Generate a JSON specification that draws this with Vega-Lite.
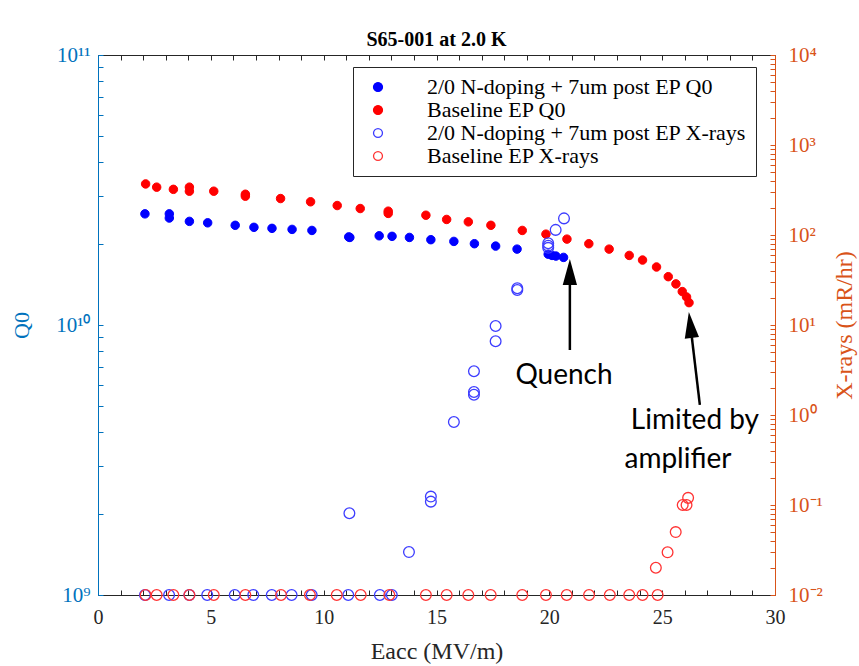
{
  "$schema": "https://vega.github.io/schema/vega-lite/v6.json",
  "width": 677,
  "height": 540,
  "autosize": {"type": "none"},
  "padding": {"left": 98, "top": 55, "right": 84, "bottom": 71},
  "background": "white",
  "title": {"text": "S65-001 at 2.0 K", "font": "Liberation Serif", "fontSize": 20, "fontWeight": "bold", "color": "#000000", "anchor": "middle", "baseline": "alphabetic", "offset": 6, "frame": "group", "dy": 28},
  "config": {
    "view": {"stroke": null},
    "font": "Liberation Serif",
    "legend": {
      "orient": "none", "legendX": 255, "legendY": 12,
      "strokeColor": "#262626", "fillColor": "white", "padding": 9,
      "labelFont": "Liberation Serif", "labelFontSize": 22, "labelColor": "#000000",
      "symbolSize": 80, "symbolStrokeWidth": 1.3, "symbolOffset": 5, "labelOffset": 38, "rowPadding": 1,
      "labelLimit": 500
    }
  },
  "datasets": {
    "q0": [
      {"E": 2.08, "Q0": 2.58e10, "series": "2/0 N-doping + 7um post EP Q0"},
      {"E": 3.16, "Q0": 2.58e10, "series": "2/0 N-doping + 7um post EP Q0"},
      {"E": 3.16, "Q0": 2.49e10, "series": "2/0 N-doping + 7um post EP Q0"},
      {"E": 4.05, "Q0": 2.42e10, "series": "2/0 N-doping + 7um post EP Q0"},
      {"E": 4.86, "Q0": 2.39e10, "series": "2/0 N-doping + 7um post EP Q0"},
      {"E": 6.08, "Q0": 2.34e10, "series": "2/0 N-doping + 7um post EP Q0"},
      {"E": 6.91, "Q0": 2.30e10, "series": "2/0 N-doping + 7um post EP Q0"},
      {"E": 7.71, "Q0": 2.28e10, "series": "2/0 N-doping + 7um post EP Q0"},
      {"E": 8.60, "Q0": 2.26e10, "series": "2/0 N-doping + 7um post EP Q0"},
      {"E": 9.48, "Q0": 2.24e10, "series": "2/0 N-doping + 7um post EP Q0"},
      {"E": 11.11, "Q0": 2.12e10, "series": "2/0 N-doping + 7um post EP Q0"},
      {"E": 11.16, "Q0": 2.11e10, "series": "2/0 N-doping + 7um post EP Q0"},
      {"E": 12.46, "Q0": 2.14e10, "series": "2/0 N-doping + 7um post EP Q0"},
      {"E": 13.03, "Q0": 2.13e10, "series": "2/0 N-doping + 7um post EP Q0"},
      {"E": 13.80, "Q0": 2.11e10, "series": "2/0 N-doping + 7um post EP Q0"},
      {"E": 14.75, "Q0": 2.07e10, "series": "2/0 N-doping + 7um post EP Q0"},
      {"E": 15.77, "Q0": 2.04e10, "series": "2/0 N-doping + 7um post EP Q0"},
      {"E": 16.68, "Q0": 2.00e10, "series": "2/0 N-doping + 7um post EP Q0"},
      {"E": 17.62, "Q0": 1.96e10, "series": "2/0 N-doping + 7um post EP Q0"},
      {"E": 18.57, "Q0": 1.91e10, "series": "2/0 N-doping + 7um post EP Q0"},
      {"E": 19.95, "Q0": 1.83e10, "series": "2/0 N-doping + 7um post EP Q0"},
      {"E": 20.12, "Q0": 1.81e10, "series": "2/0 N-doping + 7um post EP Q0"},
      {"E": 20.29, "Q0": 1.80e10, "series": "2/0 N-doping + 7um post EP Q0"},
      {"E": 20.63, "Q0": 1.78e10, "series": "2/0 N-doping + 7um post EP Q0"},
      {"E": 2.11, "Q0": 3.33e10, "series": "Baseline EP Q0"},
      {"E": 2.60, "Q0": 3.24e10, "series": "Baseline EP Q0"},
      {"E": 3.34, "Q0": 3.18e10, "series": "Baseline EP Q0"},
      {"E": 4.05, "Q0": 3.24e10, "series": "Baseline EP Q0"},
      {"E": 4.05, "Q0": 3.13e10, "series": "Baseline EP Q0"},
      {"E": 5.13, "Q0": 3.13e10, "series": "Baseline EP Q0"},
      {"E": 6.53, "Q0": 3.05e10, "series": "Baseline EP Q0"},
      {"E": 6.53, "Q0": 3.00e10, "series": "Baseline EP Q0"},
      {"E": 8.09, "Q0": 2.94e10, "series": "Baseline EP Q0"},
      {"E": 9.42, "Q0": 2.86e10, "series": "Baseline EP Q0"},
      {"E": 10.60, "Q0": 2.77e10, "series": "Baseline EP Q0"},
      {"E": 11.62, "Q0": 2.70e10, "series": "Baseline EP Q0"},
      {"E": 12.86, "Q0": 2.64e10, "series": "Baseline EP Q0"},
      {"E": 12.86, "Q0": 2.59e10, "series": "Baseline EP Q0"},
      {"E": 14.53, "Q0": 2.55e10, "series": "Baseline EP Q0"},
      {"E": 15.45, "Q0": 2.46e10, "series": "Baseline EP Q0"},
      {"E": 16.41, "Q0": 2.41e10, "series": "Baseline EP Q0"},
      {"E": 17.41, "Q0": 2.34e10, "series": "Baseline EP Q0"},
      {"E": 18.80, "Q0": 2.24e10, "series": "Baseline EP Q0"},
      {"E": 19.85, "Q0": 2.17e10, "series": "Baseline EP Q0"},
      {"E": 20.78, "Q0": 2.08e10, "series": "Baseline EP Q0"},
      {"E": 21.75, "Q0": 2.00e10, "series": "Baseline EP Q0"},
      {"E": 22.65, "Q0": 1.91e10, "series": "Baseline EP Q0"},
      {"E": 23.54, "Q0": 1.81e10, "series": "Baseline EP Q0"},
      {"E": 24.13, "Q0": 1.74e10, "series": "Baseline EP Q0"},
      {"E": 24.75, "Q0": 1.64e10, "series": "Baseline EP Q0"},
      {"E": 25.27, "Q0": 1.51e10, "series": "Baseline EP Q0"},
      {"E": 25.61, "Q0": 1.42e10, "series": "Baseline EP Q0"},
      {"E": 25.89, "Q0": 1.33e10, "series": "Baseline EP Q0"},
      {"E": 26.08, "Q0": 1.27e10, "series": "Baseline EP Q0"},
      {"E": 26.19, "Q0": 1.21e10, "series": "Baseline EP Q0"}
    ],
    "xr": [
      {"E": 2.08, "X": 0.01, "series": "2/0 N-doping + 7um post EP X-rays"},
      {"E": 3.15, "X": 0.01, "series": "2/0 N-doping + 7um post EP X-rays"},
      {"E": 4.05, "X": 0.01, "series": "2/0 N-doping + 7um post EP X-rays"},
      {"E": 4.84, "X": 0.01, "series": "2/0 N-doping + 7um post EP X-rays"},
      {"E": 6.06, "X": 0.01, "series": "2/0 N-doping + 7um post EP X-rays"},
      {"E": 6.88, "X": 0.01, "series": "2/0 N-doping + 7um post EP X-rays"},
      {"E": 7.70, "X": 0.01, "series": "2/0 N-doping + 7um post EP X-rays"},
      {"E": 8.58, "X": 0.01, "series": "2/0 N-doping + 7um post EP X-rays"},
      {"E": 9.47, "X": 0.01, "series": "2/0 N-doping + 7um post EP X-rays"},
      {"E": 11.09, "X": 0.01, "series": "2/0 N-doping + 7um post EP X-rays"},
      {"E": 12.49, "X": 0.01, "series": "2/0 N-doping + 7um post EP X-rays"},
      {"E": 13.02, "X": 0.01, "series": "2/0 N-doping + 7um post EP X-rays"},
      {"E": 11.14, "X": 0.081, "series": "2/0 N-doping + 7um post EP X-rays"},
      {"E": 13.78, "X": 0.030, "series": "2/0 N-doping + 7um post EP X-rays"},
      {"E": 14.75, "X": 0.124, "series": "2/0 N-doping + 7um post EP X-rays"},
      {"E": 14.75, "X": 0.109, "series": "2/0 N-doping + 7um post EP X-rays"},
      {"E": 15.77, "X": 0.836, "series": "2/0 N-doping + 7um post EP X-rays"},
      {"E": 16.66, "X": 3.06, "series": "2/0 N-doping + 7um post EP X-rays"},
      {"E": 16.66, "X": 1.80, "series": "2/0 N-doping + 7um post EP X-rays"},
      {"E": 16.66, "X": 1.68, "series": "2/0 N-doping + 7um post EP X-rays"},
      {"E": 17.62, "X": 9.75, "series": "2/0 N-doping + 7um post EP X-rays"},
      {"E": 17.62, "X": 6.6, "series": "2/0 N-doping + 7um post EP X-rays"},
      {"E": 18.58, "X": 25.6, "series": "2/0 N-doping + 7um post EP X-rays"},
      {"E": 18.58, "X": 24.5, "series": "2/0 N-doping + 7um post EP X-rays"},
      {"E": 19.95, "X": 81, "series": "2/0 N-doping + 7um post EP X-rays"},
      {"E": 19.95, "X": 76, "series": "2/0 N-doping + 7um post EP X-rays"},
      {"E": 19.95, "X": 72, "series": "2/0 N-doping + 7um post EP X-rays"},
      {"E": 20.28, "X": 114, "series": "2/0 N-doping + 7um post EP X-rays"},
      {"E": 20.65, "X": 153, "series": "2/0 N-doping + 7um post EP X-rays"},
      {"E": 2.11, "X": 0.01, "series": "Baseline EP X-rays"},
      {"E": 2.60, "X": 0.01, "series": "Baseline EP X-rays"},
      {"E": 3.34, "X": 0.01, "series": "Baseline EP X-rays"},
      {"E": 4.05, "X": 0.01, "series": "Baseline EP X-rays"},
      {"E": 5.13, "X": 0.01, "series": "Baseline EP X-rays"},
      {"E": 6.53, "X": 0.01, "series": "Baseline EP X-rays"},
      {"E": 8.11, "X": 0.01, "series": "Baseline EP X-rays"},
      {"E": 9.39, "X": 0.01, "series": "Baseline EP X-rays"},
      {"E": 10.58, "X": 0.01, "series": "Baseline EP X-rays"},
      {"E": 11.64, "X": 0.01, "series": "Baseline EP X-rays"},
      {"E": 12.91, "X": 0.01, "series": "Baseline EP X-rays"},
      {"E": 14.53, "X": 0.01, "series": "Baseline EP X-rays"},
      {"E": 15.45, "X": 0.01, "series": "Baseline EP X-rays"},
      {"E": 16.41, "X": 0.01, "series": "Baseline EP X-rays"},
      {"E": 17.40, "X": 0.01, "series": "Baseline EP X-rays"},
      {"E": 18.80, "X": 0.01, "series": "Baseline EP X-rays"},
      {"E": 19.85, "X": 0.01, "series": "Baseline EP X-rays"},
      {"E": 20.77, "X": 0.01, "series": "Baseline EP X-rays"},
      {"E": 21.76, "X": 0.01, "series": "Baseline EP X-rays"},
      {"E": 22.68, "X": 0.01, "series": "Baseline EP X-rays"},
      {"E": 23.54, "X": 0.01, "series": "Baseline EP X-rays"},
      {"E": 24.13, "X": 0.01, "series": "Baseline EP X-rays"},
      {"E": 24.80, "X": 0.01, "series": "Baseline EP X-rays"},
      {"E": 24.72, "X": 0.0201, "series": "Baseline EP X-rays"},
      {"E": 25.24, "X": 0.0298, "series": "Baseline EP X-rays"},
      {"E": 25.60, "X": 0.050, "series": "Baseline EP X-rays"},
      {"E": 25.91, "X": 0.100, "series": "Baseline EP X-rays"},
      {"E": 26.08, "X": 0.100, "series": "Baseline EP X-rays"},
      {"E": 26.15, "X": 0.120, "series": "Baseline EP X-rays"}
    ]
  },
  "layer": [
    {
      "data": {"name": "q0"},
      "mark": {"type": "point", "shape": "circle", "size": 72, "strokeWidth": 1, "opacity": 1},
      "encoding": {
        "x": {
          "field": "E", "type": "quantitative",
          "scale": {"domain": [0, 30], "nice": false, "zero": false},
          "axis": {
            "orient": "bottom",
            "values": [0,1,2,3,4,5,6,7,8,9,10,11,12,13,14,15,16,17,18,19,20,21,22,23,24,25,26,27,28,29,30],
            "labelExpr": "datum.value % 5 === 0 ? datum.label : ''",
            "title": "Eacc (MV/m)", "titleFont": "Liberation Serif", "titleFontSize": 24, "titleFontWeight": "normal", "titleColor": "#262626", "titlePadding": 12,
            "labelFont": "Liberation Serif", "labelFontSize": 20, "labelColor": "#262626", "labelPadding": 17,
            "labelOverlap": false, "labelFlush": false, "labelBound": false,
            "domainColor": "#262626", "domainWidth": 1, "tickColor": "#262626", "tickSize": -5, "tickWidth": 1, "grid": false
          }
        },
        "y": {
          "field": "Q0", "type": "quantitative",
          "scale": {"type": "log", "domain": [1e9, 1e11], "nice": false},
          "axis": {
            "orient": "left",
            "values": [1e9,2e9,3e9,4e9,5e9,6e9,7e9,8e9,9e9,1e10,2e10,3e10,4e10,5e10,6e10,7e10,8e10,9e10,1e11],
            "labelExpr": "datum.value == 1e9 ? '10⁹' : datum.value == 1e10 ? '10¹⁰' : datum.value == 1e11 ? '10¹¹' : ''",
            "title": "Q0", "titleFont": "Liberation Serif", "titleFontSize": 22, "titleFontWeight": "normal", "titleColor": "#0072BD", "titlePadding": 22,
            "labelFont": "Liberation Serif", "labelFontSize": 21, "labelColor": "#0072BD", "labelPadding": 13,
            "labelOverlap": false, "labelFlush": false, "labelBound": false,
            "domainColor": "#0072BD", "tickColor": "#0072BD", "tickSize": -5, "grid": false
          }
        },
        "fill": {
          "field": "series", "type": "nominal",
          "scale": {
            "domain": ["2/0 N-doping + 7um post EP Q0", "Baseline EP Q0", "2/0 N-doping + 7um post EP X-rays", "Baseline EP X-rays"],
            "range": ["#0000ff", "#ff0000", "transparent", "transparent"]
          },
          "legend": {"title": null}
        },
        "stroke": {
          "field": "series", "type": "nominal",
          "scale": {
            "domain": ["2/0 N-doping + 7um post EP Q0", "Baseline EP Q0", "2/0 N-doping + 7um post EP X-rays", "Baseline EP X-rays"],
            "range": ["#0000ff", "#ff0000", "#3d3dff", "#ff3333"]
          },
          "legend": {"title": null}
        }
      }
    },
    {
      "data": {"name": "xr"},
      "mark": {"type": "point", "shape": "circle", "size": 115, "strokeWidth": 1.3, "opacity": 1},
      "encoding": {
        "x": {
          "field": "E", "type": "quantitative",
          "scale": {"domain": [0, 30], "nice": false, "zero": false},
          "axis": {
            "orient": "top",
            "values": [0,1,2,3,4,5,6,7,8,9,10,11,12,13,14,15,16,17,18,19,20,21,22,23,24,25,26,27,28,29,30],
            "labels": false, "title": null,
            "domainColor": "#262626", "tickColor": "#262626", "tickSize": -5, "grid": false
          }
        },
        "y": {
          "field": "X", "type": "quantitative",
          "scale": {"type": "log", "domain": [0.01, 10000], "nice": false},
          "axis": {
            "orient": "right",
            "values": [0.01,0.02,0.03,0.04,0.05,0.06,0.07,0.08,0.09,0.1,0.2,0.3,0.4,0.5,0.6,0.7,0.8,0.9,1,2,3,4,5,6,7,8,9,10,20,30,40,50,60,70,80,90,100,200,300,400,500,600,700,800,900,1000,2000,3000,4000,5000,6000,7000,8000,9000,10000],
            "labelExpr": "datum.value == 0.01 ? '10⁻²' : datum.value == 0.1 ? '10⁻¹' : datum.value == 1 ? '10⁰' : datum.value == 10 ? '10¹' : datum.value == 100 ? '10²' : datum.value == 1000 ? '10³' : datum.value == 10000 ? '10⁴' : ''",
            "title": "X-rays (mR/hr)", "titleFont": "Liberation Serif", "titleFontSize": 24, "titleFontWeight": "normal", "titleColor": "#D95319", "titlePadding": 34, "titleAngle": 270,
            "labelFont": "Liberation Serif", "labelFontSize": 21, "labelColor": "#D95319", "labelPadding": 18,
            "labelOverlap": false, "labelFlush": false, "labelBound": false,
            "domainColor": "#D95319", "tickColor": "#D95319", "tickSize": -5, "grid": false
          }
        },
        "fill": {
          "field": "series", "type": "nominal",
          "scale": {
            "domain": ["2/0 N-doping + 7um post EP Q0", "Baseline EP Q0", "2/0 N-doping + 7um post EP X-rays", "Baseline EP X-rays"],
            "range": ["#0000ff", "#ff0000", "transparent", "transparent"]
          },
          "legend": null
        },
        "stroke": {
          "field": "series", "type": "nominal",
          "scale": {
            "domain": ["2/0 N-doping + 7um post EP Q0", "Baseline EP Q0", "2/0 N-doping + 7um post EP X-rays", "Baseline EP X-rays"],
            "range": ["#0000ff", "#ff0000", "#3d3dff", "#ff3333"]
          },
          "legend": null
        }
      }
    },
    {
      "data": {"values": [
        {"E": 20.91, "Q": 8.08e9, "E2": 20.91, "Q2": 1.6e10, "note": "Quench"},
        {"E": 26.67, "Q": 5.06e9, "E2": 26.25, "Q2": 1.0e10, "note": "Limited by amplifier"}
      ]},
      "mark": {"type": "rule", "color": "#000000", "strokeWidth": 2.5},
      "encoding": {
        "x": {"field": "E", "type": "quantitative", "axis": null},
        "y": {"field": "Q", "type": "quantitative", "scale": {"type": "log", "domain": [1e9, 1e11], "nice": false}, "axis": null},
        "x2": {"field": "E2"},
        "y2": {"field": "Q2"}
      }
    },
    {
      "data": {"values": [{"E": 20.91, "Q": 1.572e10}]},
      "mark": {"type": "point", "shape": "M0,-1L0.55,1L-0.55,1Z", "size": 676, "filled": true, "color": "#000000", "opacity": 1, "strokeWidth": 0, "angle": 0},
      "encoding": {
        "x": {"field": "E", "type": "quantitative", "axis": null},
        "y": {"field": "Q", "type": "quantitative", "scale": {"type": "log", "domain": [1e9, 1e11], "nice": false}, "axis": null}
      }
    },
    {
      "data": {"values": [{"E": 26.25, "Q": 1.0e10}]},
      "mark": {"type": "point", "shape": "M0,-1L0.55,1L-0.55,1Z", "size": 676, "filled": true, "color": "#000000", "opacity": 1, "strokeWidth": 0, "angle": 353.3},
      "encoding": {
        "x": {"field": "E", "type": "quantitative", "axis": null},
        "y": {"field": "Q", "type": "quantitative", "scale": {"type": "log", "domain": [1e9, 1e11], "nice": false}, "axis": null}
      }
    },
    {
      "data": {"values": [
        {"E": 20.65, "Q": 6.47e9, "label": "Quench"},
        {"E": 26.45, "Q": 4.41e9, "label": "Limited by"},
        {"E": 25.70, "Q": 3.16e9, "label": "amplifier"}
      ]},
      "mark": {"type": "text", "font": "Lato", "fontSize": 28, "color": "#000000", "align": "center", "baseline": "middle"},
      "encoding": {
        "x": {"field": "E", "type": "quantitative", "axis": null},
        "y": {"field": "Q", "type": "quantitative", "scale": {"type": "log", "domain": [1e9, 1e11], "nice": false}, "axis": null},
        "text": {"field": "label"}
      }
    }
  ],
  "resolve": {"scale": {"y": "independent"}, "axis": {"x": "independent", "y": "independent"}}
}
